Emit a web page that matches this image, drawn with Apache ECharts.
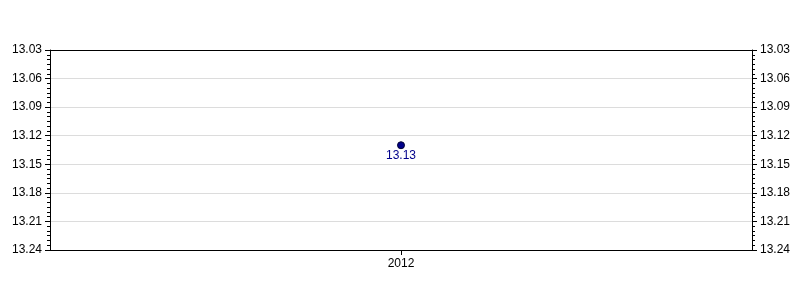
<!DOCTYPE html>
<html>
<head>
<meta charset="utf-8">
<script src="https://cdn.jsdelivr.net/npm/echarts@6/dist/echarts.min.js"></script>
<style>html,body{margin:0;padding:0;background:#fff}#c{width:800px;height:300px}</style>
</head>
<body>
<div id="c"></div>
<script>
var categories = ['2012'];
var values = [13.13];
var yMin = 13.03, yMax = 13.24, yStep = 0.03;

var FONT = 'Liberation Sans, Arial, sans-serif';
var chart = echarts.init(document.getElementById('c'), null, {renderer: 'canvas'});
function yAxis(pos) {
  return {
    type: 'value', position: pos, inverse: true,
    min: yMin, max: yMax, interval: yStep,
    axisLine: {show: true, lineStyle: {color: '#000', width: 1}},
    axisTick: {show: true, inside: false, length: 5, lineStyle: {color: '#000'}},
    minorTick: {show: true, splitNumber: 6, length: 3, lineStyle: {color: '#000'}},
    axisLabel: {color: '#000', fontSize: 12, fontFamily: FONT, margin: 8,
      formatter: function (v) { return v.toFixed(2); }},
    splitLine: {show: pos === 'left', lineStyle: {color: '#dcdcdc', width: 1}}
  };
}
chart.setOption({
  animation: false,
  grid: {left: 50, right: 48, top: 50, bottom: 50},
  xAxis: [{
    type: 'category', data: categories, boundaryGap: true, position: 'bottom',
    axisLine: {show: true, lineStyle: {color: '#000'}},
    axisTick: {show: true, alignWithLabel: true, length: 5, lineStyle: {color: '#000'}},
    axisLabel: {color: '#000', fontSize: 12, fontFamily: FONT, margin: 8},
    splitLine: {show: false}
  }, {
    type: 'category', data: categories, boundaryGap: true, position: 'top',
    axisLine: {show: true, lineStyle: {color: '#000'}},
    axisTick: {show: false}, axisLabel: {show: false}, splitLine: {show: false}
  }],
  yAxis: [yAxis('left'), yAxis('right')],
  series: [{
    type: 'line', data: values, yAxisIndex: 0, xAxisIndex: 0,
    symbol: 'circle', symbolSize: 7,
    itemStyle: {color: '#00008b', borderColor: '#000033', borderWidth: 1},
    lineStyle: {color: '#00008b'},
    label: {show: true, position: 'bottom', distance: 0, color: '#00008b', fontSize: 12,
      fontFamily: FONT,
      formatter: function (p) { return p.value.toFixed(2); }}
  }]
});
</script>
</body>
</html>
